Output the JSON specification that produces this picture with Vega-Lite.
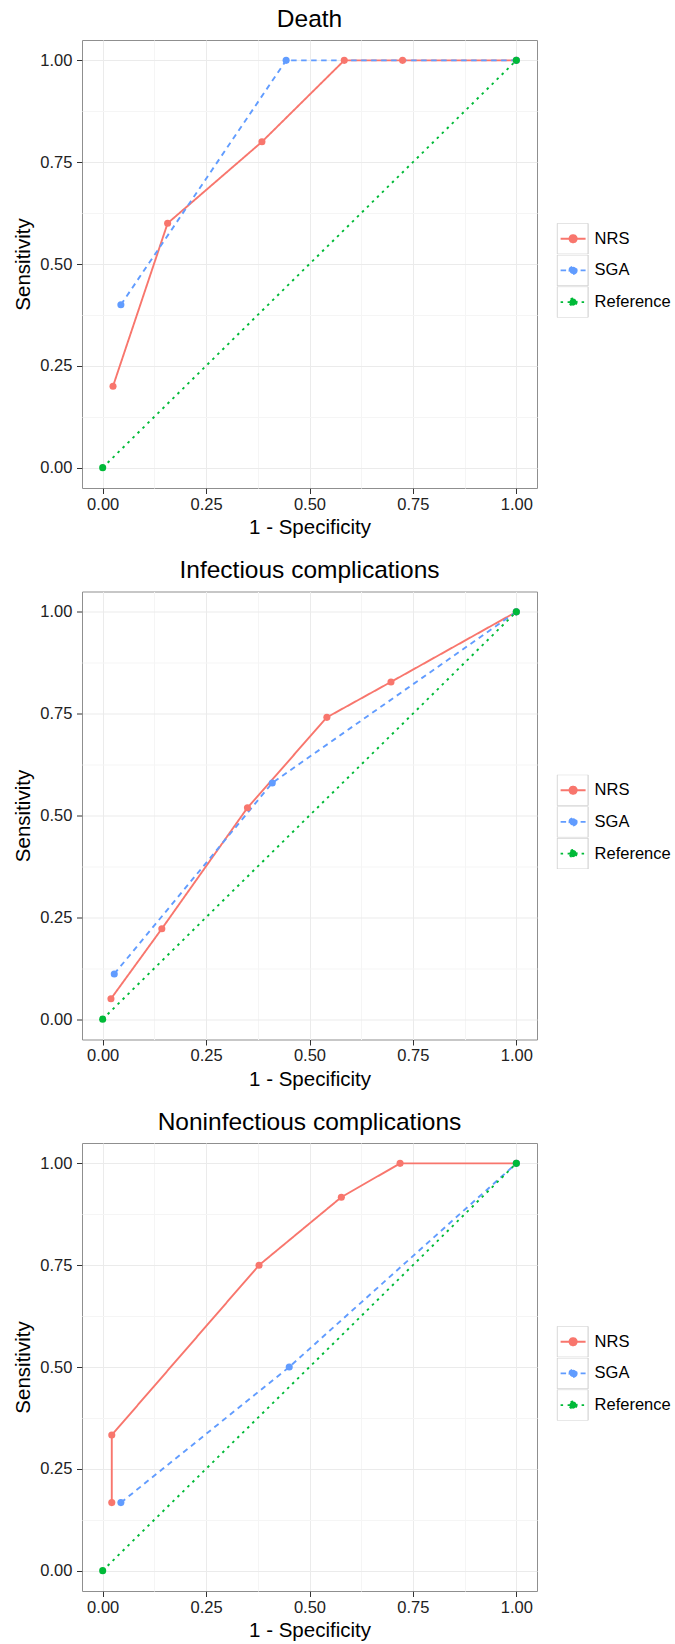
{
  "$schema": "https://vega.github.io/schema/vega-lite/v6.json",
  "background": "white",
  "padding": {"left": 13, "top": 6, "right": 0, "bottom": 0},
  "spacing": 18.5,
  "data": {
    "values": [
      {"panel": "Death", "method": "NRS", "idx": 1, "fpr": 0.025, "tpr": 0.2},
      {"panel": "Death", "method": "NRS", "idx": 2, "fpr": 0.157, "tpr": 0.6},
      {"panel": "Death", "method": "NRS", "idx": 3, "fpr": 0.385, "tpr": 0.8},
      {"panel": "Death", "method": "NRS", "idx": 4, "fpr": 0.584, "tpr": 1.0},
      {"panel": "Death", "method": "NRS", "idx": 5, "fpr": 0.725, "tpr": 1.0},
      {"panel": "Death", "method": "NRS", "idx": 6, "fpr": 1.0, "tpr": 1.0},
      {"panel": "Death", "method": "SGA", "idx": 1, "fpr": 0.044, "tpr": 0.4},
      {"panel": "Death", "method": "SGA", "idx": 2, "fpr": 0.4435, "tpr": 1.0},
      {"panel": "Death", "method": "SGA", "idx": 3, "fpr": 1.0, "tpr": 1.0},
      {"panel": "Death", "method": "Reference", "idx": 1, "fpr": 0.0, "tpr": 0.0},
      {"panel": "Death", "method": "Reference", "idx": 2, "fpr": 1.0, "tpr": 1.0},
      {"panel": "Infectious complications", "method": "NRS", "idx": 1, "fpr": 0.020, "tpr": 0.05},
      {"panel": "Infectious complications", "method": "NRS", "idx": 2, "fpr": 0.143, "tpr": 0.222},
      {"panel": "Infectious complications", "method": "NRS", "idx": 3, "fpr": 0.350, "tpr": 0.519},
      {"panel": "Infectious complications", "method": "NRS", "idx": 4, "fpr": 0.542, "tpr": 0.741},
      {"panel": "Infectious complications", "method": "NRS", "idx": 5, "fpr": 0.697, "tpr": 0.828},
      {"panel": "Infectious complications", "method": "NRS", "idx": 6, "fpr": 1.0, "tpr": 1.0},
      {"panel": "Infectious complications", "method": "SGA", "idx": 1, "fpr": 0.028, "tpr": 0.111},
      {"panel": "Infectious complications", "method": "SGA", "idx": 2, "fpr": 0.410, "tpr": 0.580},
      {"panel": "Infectious complications", "method": "SGA", "idx": 3, "fpr": 1.0, "tpr": 1.0},
      {"panel": "Infectious complications", "method": "Reference", "idx": 1, "fpr": 0.0, "tpr": 0.0},
      {"panel": "Infectious complications", "method": "Reference", "idx": 2, "fpr": 1.0, "tpr": 1.0},
      {"panel": "Noninfectious complications", "method": "NRS", "idx": 1, "fpr": 0.022, "tpr": 0.167},
      {"panel": "Noninfectious complications", "method": "NRS", "idx": 2, "fpr": 0.022, "tpr": 0.333},
      {"panel": "Noninfectious complications", "method": "NRS", "idx": 3, "fpr": 0.378, "tpr": 0.75},
      {"panel": "Noninfectious complications", "method": "NRS", "idx": 4, "fpr": 0.577, "tpr": 0.917},
      {"panel": "Noninfectious complications", "method": "NRS", "idx": 5, "fpr": 0.719, "tpr": 1.0},
      {"panel": "Noninfectious complications", "method": "NRS", "idx": 6, "fpr": 1.0, "tpr": 1.0},
      {"panel": "Noninfectious complications", "method": "SGA", "idx": 1, "fpr": 0.044, "tpr": 0.167},
      {"panel": "Noninfectious complications", "method": "SGA", "idx": 2, "fpr": 0.451, "tpr": 0.5},
      {"panel": "Noninfectious complications", "method": "SGA", "idx": 3, "fpr": 1.0, "tpr": 1.0},
      {"panel": "Noninfectious complications", "method": "Reference", "idx": 1, "fpr": 0.0, "tpr": 0.0},
      {"panel": "Noninfectious complications", "method": "Reference", "idx": 2, "fpr": 1.0, "tpr": 1.0}
    ]
  },
  "resolve": {"scale": {"fill": "independent", "stroke": "independent", "strokeDash": "independent", "opacity": "independent"}},
  "config": {
    "font": "Liberation Sans",
    "view": {"stroke": "#8F8F8F", "strokeWidth": 1},
    "title": {"fontSize": 24.5, "fontWeight": "normal", "color": "#000", "anchor": "middle", "frame": "group", "offset": 8, "font": "Liberation Sans"}
  },
  "vconcat": [
    {
      "title": {"text": "Death"},
      "width": 455, "height": 448,
      "transform": [{"filter": "datum.panel === 'Death'"}],
      "encoding": {
        "x": {"field": "fpr", "type": "quantitative", "scale": {"domain": [-0.05, 1.05], "nice": false, "zero": false},
          "axis": {"title": "1 - Specificity", "values": [0, 0.125, 0.25, 0.375, 0.5, 0.625, 0.75, 0.875, 1],
            "labelExpr": "datum.value*4%1 !== 0 ? '' : format(datum.value, '.2f')",
            "gridColor": {"condition": {"test": "datum.value*4%1 !== 0", "value": "#F5F5F5"}, "value": "#EBEBEB"},
            "tickOpacity": {"condition": {"test": "datum.value*4%1 !== 0", "value": 0}, "value": 1},
            "domain": false, "tickColor": "#333", "tickSize": 5.5, "labelPadding": 2.5, "labelFontSize": 16.5, "labelColor": "#222",
            "labelOverlap": false, "labelFlush": false, "titleFontSize": 20.5, "titleFontWeight": "normal", "titleColor": "#000", "titlePadding": 5}},
        "y": {"field": "tpr", "type": "quantitative", "scale": {"domain": [-0.05, 1.05], "nice": false, "zero": false},
          "axis": {"title": "Sensitivity", "values": [0, 0.125, 0.25, 0.375, 0.5, 0.625, 0.75, 0.875, 1],
            "labelExpr": "datum.value*4%1 !== 0 ? '' : format(datum.value, '.2f')",
            "gridColor": {"condition": {"test": "datum.value*4%1 !== 0", "value": "#F5F5F5"}, "value": "#EBEBEB"},
            "tickOpacity": {"condition": {"test": "datum.value*4%1 !== 0", "value": 0}, "value": 1},
            "domain": false, "tickColor": "#333", "tickSize": 5.5, "labelPadding": 4.6, "labelFontSize": 16.5, "labelColor": "#222",
            "labelOverlap": false, "labelFlush": false, "titleFontSize": 20.5, "titleFontWeight": "normal", "titleColor": "#000", "titlePadding": 6}}
      },
      "layer": [
        {"mark": {"type": "line", "strokeWidth": 1.9},
          "encoding": {
            "stroke": {"field": "method", "type": "nominal", "scale": {"domain": ["NRS", "SGA", "Reference"], "range": ["#F8766D", "#619CFF", "#00BA38"]},
              "legend": {"orient": "none", "legendX": 474.6, "legendY": 183.2, "title": null, "padding": 0, "symbolType": "M-0.806,0H0.806M0.232,0A0.232,0.232,0,1,1,-0.232,0A0.232,0.232,0,1,1,0.232,0Z", "symbolSize": 961, "symbolStrokeWidth": 1.9, "symbolOpacity": 1, "clipHeight": 31, "rowPadding": 0.7, "labelFontSize": 16.5, "labelFont": "Liberation Sans", "labelColor": "#000", "labelOffset": 5}},
            "strokeDash": {"field": "method", "type": "nominal", "scale": {"domain": ["NRS", "SGA", "Reference"], "range": [[1, 0], [5.5, 4.5], [2.5, 4.5]]},
              "legend": {"orient": "none", "legendX": 474.6, "legendY": 183.2, "title": null, "padding": 0, "symbolType": "M-0.806,0H0.806M0.232,0A0.232,0.232,0,1,1,-0.232,0A0.232,0.232,0,1,1,0.232,0Z", "symbolSize": 961, "symbolStrokeWidth": 1.9, "symbolOpacity": 1, "clipHeight": 31, "rowPadding": 0.7, "labelFontSize": 16.5, "labelFont": "Liberation Sans", "labelColor": "#000", "labelOffset": 5}},
            "order": {"field": "idx", "type": "quantitative"}
          }},
        {"mark": {"type": "point", "filled": true, "size": 50},
          "encoding": {
            "fill": {"field": "method", "type": "nominal", "scale": {"domain": ["NRS", "SGA", "Reference"], "range": ["#F8766D", "#619CFF", "#00BA38"]},
              "legend": {"orient": "none", "legendX": 474.6, "legendY": 183.2, "title": null, "padding": 0, "symbolType": "M-0.806,0H0.806M0.232,0A0.232,0.232,0,1,1,-0.232,0A0.232,0.232,0,1,1,0.232,0Z", "symbolSize": 961, "symbolStrokeWidth": 1.9, "symbolOpacity": 1, "clipHeight": 31, "rowPadding": 0.7, "labelFontSize": 16.5, "labelFont": "Liberation Sans", "labelColor": "#000", "labelOffset": 5}},
            "opacity": {"field": "method", "type": "nominal", "scale": {"range": [1, 1, 1]},
              "legend": {"orient": "none", "legendX": 474.6, "legendY": 183.2, "title": null, "padding": 0, "symbolType": "square", "symbolSize": 961, "symbolStrokeWidth": 1, "symbolFillColor": "transparent", "symbolStrokeColor": "#CCCCCC", "clipHeight": 31, "rowPadding": 0.7, "labelFontSize": 16.5, "labelFont": "Liberation Sans", "labelColor": "transparent", "labelExpr": "''", "labelOffset": 5}}
          }}
      ]
    },
    {
      "title": {"text": "Infectious complications"},
      "width": 455, "height": 448,
      "transform": [{"filter": "datum.panel === 'Infectious complications'"}],
      "encoding": {
        "x": {"field": "fpr", "type": "quantitative", "scale": {"domain": [-0.05, 1.05], "nice": false, "zero": false},
          "axis": {"title": "1 - Specificity", "values": [0, 0.125, 0.25, 0.375, 0.5, 0.625, 0.75, 0.875, 1],
            "labelExpr": "datum.value*4%1 !== 0 ? '' : format(datum.value, '.2f')",
            "gridColor": {"condition": {"test": "datum.value*4%1 !== 0", "value": "#F5F5F5"}, "value": "#EBEBEB"},
            "tickOpacity": {"condition": {"test": "datum.value*4%1 !== 0", "value": 0}, "value": 1},
            "domain": false, "tickColor": "#333", "tickSize": 5.5, "labelPadding": 2.5, "labelFontSize": 16.5, "labelColor": "#222",
            "labelOverlap": false, "labelFlush": false, "titleFontSize": 20.5, "titleFontWeight": "normal", "titleColor": "#000", "titlePadding": 5}},
        "y": {"field": "tpr", "type": "quantitative", "scale": {"domain": [-0.05, 1.05], "nice": false, "zero": false},
          "axis": {"title": "Sensitivity", "values": [0, 0.125, 0.25, 0.375, 0.5, 0.625, 0.75, 0.875, 1],
            "labelExpr": "datum.value*4%1 !== 0 ? '' : format(datum.value, '.2f')",
            "gridColor": {"condition": {"test": "datum.value*4%1 !== 0", "value": "#F5F5F5"}, "value": "#EBEBEB"},
            "tickOpacity": {"condition": {"test": "datum.value*4%1 !== 0", "value": 0}, "value": 1},
            "domain": false, "tickColor": "#333", "tickSize": 5.5, "labelPadding": 4.6, "labelFontSize": 16.5, "labelColor": "#222",
            "labelOverlap": false, "labelFlush": false, "titleFontSize": 20.5, "titleFontWeight": "normal", "titleColor": "#000", "titlePadding": 6}}
      },
      "layer": [
        {"mark": {"type": "line", "strokeWidth": 1.9},
          "encoding": {
            "stroke": {"field": "method", "type": "nominal", "scale": {"domain": ["NRS", "SGA", "Reference"], "range": ["#F8766D", "#619CFF", "#00BA38"]},
              "legend": {"orient": "none", "legendX": 474.6, "legendY": 183.2, "title": null, "padding": 0, "symbolType": "M-0.806,0H0.806M0.232,0A0.232,0.232,0,1,1,-0.232,0A0.232,0.232,0,1,1,0.232,0Z", "symbolSize": 961, "symbolStrokeWidth": 1.9, "symbolOpacity": 1, "clipHeight": 31, "rowPadding": 0.7, "labelFontSize": 16.5, "labelFont": "Liberation Sans", "labelColor": "#000", "labelOffset": 5}},
            "strokeDash": {"field": "method", "type": "nominal", "scale": {"domain": ["NRS", "SGA", "Reference"], "range": [[1, 0], [5.5, 4.5], [2.5, 4.5]]},
              "legend": {"orient": "none", "legendX": 474.6, "legendY": 183.2, "title": null, "padding": 0, "symbolType": "M-0.806,0H0.806M0.232,0A0.232,0.232,0,1,1,-0.232,0A0.232,0.232,0,1,1,0.232,0Z", "symbolSize": 961, "symbolStrokeWidth": 1.9, "symbolOpacity": 1, "clipHeight": 31, "rowPadding": 0.7, "labelFontSize": 16.5, "labelFont": "Liberation Sans", "labelColor": "#000", "labelOffset": 5}},
            "order": {"field": "idx", "type": "quantitative"}
          }},
        {"mark": {"type": "point", "filled": true, "size": 50},
          "encoding": {
            "fill": {"field": "method", "type": "nominal", "scale": {"domain": ["NRS", "SGA", "Reference"], "range": ["#F8766D", "#619CFF", "#00BA38"]},
              "legend": {"orient": "none", "legendX": 474.6, "legendY": 183.2, "title": null, "padding": 0, "symbolType": "M-0.806,0H0.806M0.232,0A0.232,0.232,0,1,1,-0.232,0A0.232,0.232,0,1,1,0.232,0Z", "symbolSize": 961, "symbolStrokeWidth": 1.9, "symbolOpacity": 1, "clipHeight": 31, "rowPadding": 0.7, "labelFontSize": 16.5, "labelFont": "Liberation Sans", "labelColor": "#000", "labelOffset": 5}},
            "opacity": {"field": "method", "type": "nominal", "scale": {"range": [1, 1, 1]},
              "legend": {"orient": "none", "legendX": 474.6, "legendY": 183.2, "title": null, "padding": 0, "symbolType": "square", "symbolSize": 961, "symbolStrokeWidth": 1, "symbolFillColor": "transparent", "symbolStrokeColor": "#CCCCCC", "clipHeight": 31, "rowPadding": 0.7, "labelFontSize": 16.5, "labelFont": "Liberation Sans", "labelColor": "transparent", "labelExpr": "''", "labelOffset": 5}}
          }}
      ]
    },
    {
      "title": {"text": "Noninfectious complications"},
      "width": 455, "height": 448,
      "transform": [{"filter": "datum.panel === 'Noninfectious complications'"}],
      "encoding": {
        "x": {"field": "fpr", "type": "quantitative", "scale": {"domain": [-0.05, 1.05], "nice": false, "zero": false},
          "axis": {"title": "1 - Specificity", "values": [0, 0.125, 0.25, 0.375, 0.5, 0.625, 0.75, 0.875, 1],
            "labelExpr": "datum.value*4%1 !== 0 ? '' : format(datum.value, '.2f')",
            "gridColor": {"condition": {"test": "datum.value*4%1 !== 0", "value": "#F5F5F5"}, "value": "#EBEBEB"},
            "tickOpacity": {"condition": {"test": "datum.value*4%1 !== 0", "value": 0}, "value": 1},
            "domain": false, "tickColor": "#333", "tickSize": 5.5, "labelPadding": 2.5, "labelFontSize": 16.5, "labelColor": "#222",
            "labelOverlap": false, "labelFlush": false, "titleFontSize": 20.5, "titleFontWeight": "normal", "titleColor": "#000", "titlePadding": 5}},
        "y": {"field": "tpr", "type": "quantitative", "scale": {"domain": [-0.05, 1.05], "nice": false, "zero": false},
          "axis": {"title": "Sensitivity", "values": [0, 0.125, 0.25, 0.375, 0.5, 0.625, 0.75, 0.875, 1],
            "labelExpr": "datum.value*4%1 !== 0 ? '' : format(datum.value, '.2f')",
            "gridColor": {"condition": {"test": "datum.value*4%1 !== 0", "value": "#F5F5F5"}, "value": "#EBEBEB"},
            "tickOpacity": {"condition": {"test": "datum.value*4%1 !== 0", "value": 0}, "value": 1},
            "domain": false, "tickColor": "#333", "tickSize": 5.5, "labelPadding": 4.6, "labelFontSize": 16.5, "labelColor": "#222",
            "labelOverlap": false, "labelFlush": false, "titleFontSize": 20.5, "titleFontWeight": "normal", "titleColor": "#000", "titlePadding": 6}}
      },
      "layer": [
        {"mark": {"type": "line", "strokeWidth": 1.9},
          "encoding": {
            "stroke": {"field": "method", "type": "nominal", "scale": {"domain": ["NRS", "SGA", "Reference"], "range": ["#F8766D", "#619CFF", "#00BA38"]},
              "legend": {"orient": "none", "legendX": 474.6, "legendY": 183.2, "title": null, "padding": 0, "symbolType": "M-0.806,0H0.806M0.232,0A0.232,0.232,0,1,1,-0.232,0A0.232,0.232,0,1,1,0.232,0Z", "symbolSize": 961, "symbolStrokeWidth": 1.9, "symbolOpacity": 1, "clipHeight": 31, "rowPadding": 0.7, "labelFontSize": 16.5, "labelFont": "Liberation Sans", "labelColor": "#000", "labelOffset": 5}},
            "strokeDash": {"field": "method", "type": "nominal", "scale": {"domain": ["NRS", "SGA", "Reference"], "range": [[1, 0], [5.5, 4.5], [2.5, 4.5]]},
              "legend": {"orient": "none", "legendX": 474.6, "legendY": 183.2, "title": null, "padding": 0, "symbolType": "M-0.806,0H0.806M0.232,0A0.232,0.232,0,1,1,-0.232,0A0.232,0.232,0,1,1,0.232,0Z", "symbolSize": 961, "symbolStrokeWidth": 1.9, "symbolOpacity": 1, "clipHeight": 31, "rowPadding": 0.7, "labelFontSize": 16.5, "labelFont": "Liberation Sans", "labelColor": "#000", "labelOffset": 5}},
            "order": {"field": "idx", "type": "quantitative"}
          }},
        {"mark": {"type": "point", "filled": true, "size": 50},
          "encoding": {
            "fill": {"field": "method", "type": "nominal", "scale": {"domain": ["NRS", "SGA", "Reference"], "range": ["#F8766D", "#619CFF", "#00BA38"]},
              "legend": {"orient": "none", "legendX": 474.6, "legendY": 183.2, "title": null, "padding": 0, "symbolType": "M-0.806,0H0.806M0.232,0A0.232,0.232,0,1,1,-0.232,0A0.232,0.232,0,1,1,0.232,0Z", "symbolSize": 961, "symbolStrokeWidth": 1.9, "symbolOpacity": 1, "clipHeight": 31, "rowPadding": 0.7, "labelFontSize": 16.5, "labelFont": "Liberation Sans", "labelColor": "#000", "labelOffset": 5}},
            "opacity": {"field": "method", "type": "nominal", "scale": {"range": [1, 1, 1]},
              "legend": {"orient": "none", "legendX": 474.6, "legendY": 183.2, "title": null, "padding": 0, "symbolType": "square", "symbolSize": 961, "symbolStrokeWidth": 1, "symbolFillColor": "transparent", "symbolStrokeColor": "#CCCCCC", "clipHeight": 31, "rowPadding": 0.7, "labelFontSize": 16.5, "labelFont": "Liberation Sans", "labelColor": "transparent", "labelExpr": "''", "labelOffset": 5}}
          }}
      ]
    }
  ]
}
